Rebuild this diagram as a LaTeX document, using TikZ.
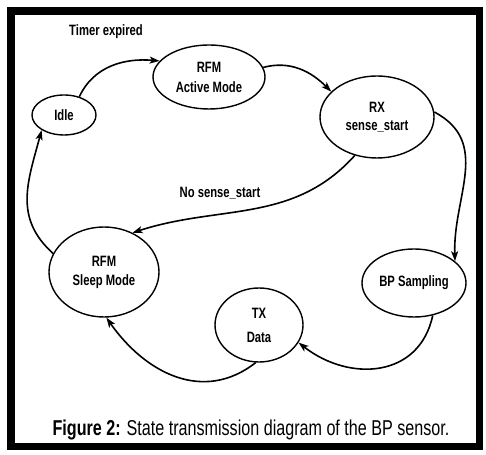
\documentclass[tikz,border=0pt]{standalone}
\usepackage{fontspec}
\setmainfont{Liberation Sans}[FakeStretch=0.75]
\usetikzlibrary{arrows.meta, shapes.geometric}

\tikzset{
  state/.style={draw=black, line width=1.4pt, ellipse, inner sep=0pt,
    align=center, font=\fontsize{15}{18}\selectfont\bfseries},
  trans/.style={draw=black, line width=1.6pt,
    -{Stealth[length=10pt, width=7pt, inset=2.5pt]}},
  edgelabel/.style={font=\fontsize{15}{18}\selectfont\bfseries}
}

\begin{document}
\begin{tikzpicture}[x=1pt, y=1pt]
  \useasboundingbox (0,0) rectangle (486,454);
  \fill[white] (0,0) rectangle (486,454);

  % outer frame
  \draw[line width=7.5pt] (11,443) rectangle (479.7,7.7);

  % states
  \node[state, minimum width=64pt, minimum height=40pt] (idle) at (64,339) {Idle};
  \node[state, minimum width=112pt, minimum height=64pt] (active) at (209,377) {RFM\\[2pt]Active Mode};
  \node[state, minimum width=114pt, minimum height=82pt] (rx) at (377,337) {RX\\sense\_start};
  \node[state, minimum width=110pt, minimum height=90pt] (sleep) at (104,182) {RFM\\[1pt]Sleep Mode};
  \node[state, minimum width=104pt, minimum height=68pt] (bp) at (414,171) {BP Sampling};
  \node[state, minimum width=88pt, minimum height=74pt] (tx) at (259,129) {TX\\[6pt]Data};

  % transitions
  \draw[trans] (idle.50) to[out=65, in=175] (active.162);
  \draw[trans] (active.10) to[out=15, in=135] (rx.151);
  \draw[trans] (rx.5) to[out=-28, in=92, looseness=1.1] (bp.28);
  \draw[trans] (rx.240) to[out=228, in=18] (sleep.54);
  \draw[trans] (bp.300) to[out=258, in=-38, looseness=1.2] (tx.336);
  \draw[trans] (tx.265) to[out=218, in=-55, looseness=1.1] (sleep.273);
  \draw[trans] (sleep.160) to[out=138, in=255, looseness=1.1] (idle.214);

  % transition labels
  \node[edgelabel] (lbltimer) at (106,422) {Timer expired};
  \node[edgelabel] (lblnosense) at (220,261) {No sense\_start};

  % caption
  \node[font=\fontsize{21.5}{25}\selectfont] (caption) at (251,24)
    {\textbf{Figure 2:} State transmission diagram of the BP sensor.};
\end{tikzpicture}
\end{document}
